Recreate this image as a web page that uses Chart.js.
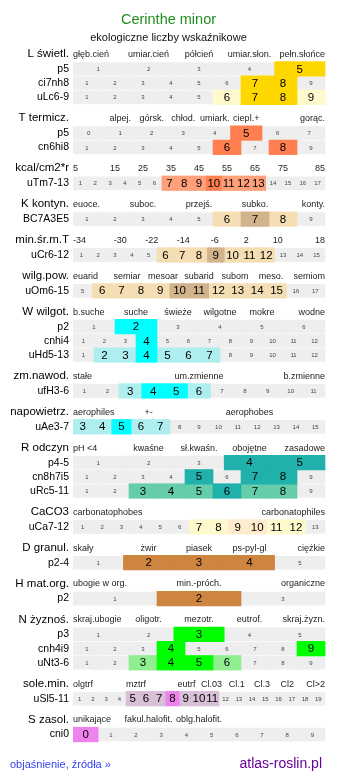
<!DOCTYPE html>
<html>
<head>
<meta charset="utf-8">
<script src="https://cdn.jsdelivr.net/npm/chart.js@4.4.0/dist/chart.umd.min.js"></script>
<style>
  html, body { margin: 0; padding: 0; background: #fff; }
  #wrap { position: relative; width: 337px; height: 781px; }
  #myChart { display: block; }
  .foot { position: absolute; text-decoration: none; font-family: 'Liberation Sans', Arial, sans-serif; white-space: nowrap; }
  #help { left: 10px; top: 758px; font-size: 11px; color: #3344ee; }
  #site { right: 15px; top: 755px; font-size: 14px; color: #660099; }
</style>
</head>
<body>
<div id="wrap">
  <canvas id="myChart" width="337" height="781"></canvas>
  <a class="foot" id="help" href="#">objaśnienie, źródła »</a>
  <a class="foot" id="site" href="#">atlas-roslin.pl</a>
</div>
<script>
/* globals Chart:false */

// Indicator names (left column)
var groupLabels = ['L świetl.', 'T termicz.', 'kcal/cm2*r', 'K kontyn.', 'min.śr.m.T', 'wilg.pow.',
  'W wilgot.', 'zm.nawod.', 'napowietrz.', 'R odczyn', 'CaCO3', 'D granul.', 'H mat.org.',
  'N żyznoś.', 'sole.min.', 'S zasol.'];

// Scale descriptions above each block ('' = empty slot)
var headerLabels = [
  ['głęb.cień', 'umiar.cień', 'półcień', 'umiar.słon.', 'pełn.słońce'],
  ['', 'alpej.', 'górsk.', 'chłod.', 'umiark.', 'ciepl.+', '', 'gorąc.'],
  ['5', '15', '25', '35', '45', '55', '65', '75', '85'],
  ['euoce.', '', 'suboc.', '', 'przejś.', '', 'subko.', '', 'konty.'],
  ['-34', '-30', '-22', '-14', '-6', '2', '10', '18'],
  ['euarid', 'semiar', 'mesoar', 'subarid', 'subom', 'meso.', 'semiom'],
  ['b.suche', 'suche', 'świeże', 'wilgotne', 'mokre', 'wodne'],
  ['stałe', 'um.zmienne', 'b.zmienne'],
  ['aerophiles', '+-', '', 'aerophobes', ''],
  ['pH <4', 'kwaśne', 'sł.kwaśn.', 'obojętne', 'zasadowe'],
  ['carbonatophobes', 'carbonatophiles'],
  ['skały', 'żwir', 'piasek', 'ps-pyl-gl', 'ciężkie'],
  ['ubogie w org.', 'min.-próch.', 'organiczne'],
  ['skraj.ubogie', 'oligotr.', 'mezotr.', 'eutrof.', 'skraj.żyzn.'],
  ['olgtrf', '', 'mztrf', '', 'eutrf', 'Cl.03', 'Cl.1', 'Cl.3', 'Cl2', 'Cl>2'],
  ['unikające', 'fakul.halofit.', 'oblg.halofit.', '', '']
];

// Source rows of every block
var rowLabels = [
  ['p5', 'ci7nh8', 'uLc6-9'],
  ['p5', 'cn6hi8'],
  ['uTm7-13'],
  ['BC7A3E5'],
  ['uCr6-12'],
  ['uOm6-15'],
  ['p2', 'cnhi4', 'uHd5-13'],
  ['ufH3-6'],
  ['uAe3-7'],
  ['p4-5', 'cn8h7i5', 'uRc5-11'],
  ['uCa7-12'],
  ['p2-4'],
  ['p2'],
  ['p3', 'cnh4i9', 'uNt3-6'],
  ['uSl5-11'],
  ['cni0']
];

// First and last value of each row
var rowRanges = [
  [[1, 5], [1, 9], [1, 9]],
  [[0, 7], [1, 9]],
  [[1, 17]],
  [[1, 9]],
  [[1, 15]],
  [[5, 17]],
  [[1, 6], [1, 12], [1, 12]],
  [[1, 11]],
  [[3, 15]],
  [[1, 5], [1, 9], [1, 9]],
  [[1, 13]],
  [[1, 5]],
  [[1, 3]],
  [[1, 5], [1, 9], [1, 9]],
  [[1, 19]],
  [[0, 9]]
];

// Main values (strong colour)
var strongValues = [
  [[5], [7, 8], [7, 8]],
  [[5], [6, 8]],
  [[10]],
  [[7]],
  [[9]],
  [[10, 11]],
  [[2], [4], [4]],
  [[4, 5]],
  [[5]],
  [[4, 5], [5, 7, 8], [6]],
  [[9, 10]],
  [[2, 3, 4]],
  [[2]],
  [[3], [4, 9], [4, 5]],
  [[8]],
  [[0]]
];

// Range values (light colour)
var lightValues = [
  [[], [], [6, 9]],
  [[], []],
  [[7, 8, 9, 11, 12, 13]],
  [[6, 8]],
  [[6, 7, 8, 10, 11, 12]],
  [[6, 7, 8, 9, 12, 13, 14, 15]],
  [[], [], [2, 3, 5, 6, 7]],
  [[3, 6]],
  [[3, 4, 6, 7]],
  [[], [], [3, 4, 5, 7, 8]],
  [[7, 8, 11, 12]],
  [[]],
  [[]],
  [[], [], [3, 6]],
  [[5, 6, 7, 9, 10, 11]],
  [[]]
];

var strongColors = ['#ffd700', '#ff7f50', '#ff7f50', '#d2b48c', '#d2b48c', '#d2b48c', '#00ffff', '#00ffff',
  '#00ffff', '#20b2aa', '#ffebcd', '#cd853f', '#cd853f', '#00ff00', '#ee82ee', '#ee82ee'];
var lightColors = ['#fffacd', '#ffa07a', '#ffa07a', '#f5deb3', '#f5deb3', '#f5deb3', '#afeeee', '#afeeee',
  '#afeeee', '#66cdaa', '#fffacd', '#cd853f', '#cd853f', '#90ee90', '#d8bfd8', '#d8bfd8'];

// Vertical layout (page pixels)
var HEAD_Y0 = 54, HEAD_TO_ROW = 15.3, ROW_STEP = 14.4, GROUP_STEP = 36.4;
var TOP = 14.5 * 1.2 + 11 + 11 * 1.2 + 5.4; // title + subtitle boxes
var FONT = "'Liberation Sans', Arial, sans-serif";

var headY = [], rowY = [], yTicks = [];
var y = HEAD_Y0;
for (var g = 0; g < groupLabels.length; g++) {
  headY.push(y);
  yTicks.push({value: y, label: groupLabels[g], group: true});
  rowY.push([]);
  for (var r = 0; r < rowLabels[g].length; r++) {
    var ry = y + HEAD_TO_ROW + r * ROW_STEP;
    rowY[g].push(ry);
    yTicks.push({value: ry, label: rowLabels[g][r], group: false});
  }
  y += GROUP_STEP + (rowLabels[g].length - 1) * ROW_STEP;
}

// One floating bar per cell
var baseData = [], lightData = [], lightBg = [], strongData = [], strongBg = [];
for (g = 0; g < rowLabels.length; g++) {
  for (r = 0; r < rowLabels[g].length; r++) {
    var from = rowRanges[g][r][0], to = rowRanges[g][r][1], n = to - from + 1;
    for (var v = from; v <= to; v++) {
      var k = v - from;
      var isStrong = strongValues[g][r].indexOf(v) != -1;
      var isLight = lightValues[g][r].indexOf(v) != -1;
      baseData.push({x: [k / n, (k + 1) / n], y: rowY[g][r], v: v, big: isStrong || isLight});
      if (isStrong) {
        strongData.push({x: [k / n, (k + 1) / n], y: rowY[g][r], v: v, big: true});
        strongBg.push(strongColors[g]);
      } else if (isLight) {
        lightData.push({x: [k / n, (k + 1) / n], y: rowY[g][r], v: v, big: true});
        lightBg.push(lightColors[g]);
      }
    }
  }
}

// Numbers inside the cells
var cellText = {
  id: 'cellText',
  afterDatasetsDraw: function(chart) {
    var ctx = chart.ctx;
    ctx.save();
    ctx.textAlign = 'center';
    ctx.textBaseline = 'middle';
    chart.data.datasets.forEach(function(ds, di) {
      var meta = chart.getDatasetMeta(di);
      meta.data.forEach(function(bar, i) {
        var cell = ds.data[i];
        if (ds.label === 'base' && cell.big) return;
        var p = bar.getProps(['x', 'y', 'base'], true);
        if (cell.big) {
          ctx.font = '11.5px ' + FONT;
          ctx.fillStyle = '#000';
        } else {
          ctx.font = '6px ' + FONT;
          ctx.fillStyle = '#444';
        }
        ctx.fillText(String(cell.v), (p.x + p.base) / 2, p.y + 0.5);
      });
    });
    ctx.restore();
  }
};

// Scale descriptions above the rows
var headerText = {
  id: 'headerText',
  afterDatasetsDraw: function(chart) {
    var ctx = chart.ctx, xs = chart.scales.x, ys = chart.scales.y;
    var left = xs.getPixelForValue(0), right = xs.getPixelForValue(1);
    ctx.save();
    ctx.font = '9px ' + FONT;
    ctx.fillStyle = '#222';
    ctx.textBaseline = 'middle';
    headerLabels.forEach(function(list, gi) {
      var py = ys.getPixelForValue(headY[gi]) + 0.5;
      var seg = (right - left) / list.length;
      list.forEach(function(txt, j) {
        if (!txt) return;
        if (j === 0) {
          ctx.textAlign = 'left';
          ctx.fillText(txt, left, py);
        } else if (j === list.length - 1) {
          ctx.textAlign = 'right';
          ctx.fillText(txt, right, py);
        } else {
          ctx.textAlign = 'center';
          ctx.fillText(txt, left + (j + 0.5) * seg, py);
        }
      });
    });
    ctx.restore();
  }
};

Chart.defaults.font.family = FONT;
Chart.defaults.color = '#000';

var ctx = document.getElementById('myChart').getContext('2d');
var myChart = new Chart(ctx, {
  type: 'bar',
  data: {
    datasets: [
      {label: 'base', data: baseData, backgroundColor: '#eeeeee', barThickness: 13, order: 3},
      {label: 'light', data: lightData, backgroundColor: lightBg, barThickness: 14.6, order: 2},
      {label: 'strong', data: strongData, backgroundColor: strongBg, barThickness: 14.6, order: 1}
    ]
  },
  options: {
    indexAxis: 'y',
    responsive: false,
    animation: false,
    devicePixelRatio: 1,
    events: [],
    layout: {padding: 0},
    datasets: {bar: {grouped: false, borderWidth: 0}},
    scales: {
      x: {
        type: 'linear',
        display: false,
        min: 0,
        max: 264 / 252 // cells end at x = 325
      },
      y: {
        type: 'linear',
        reverse: true,
        offset: false,
        min: TOP,
        max: 781,
        grid: {display: false, drawTicks: false},
        border: {display: false},
        afterFit: function(scale) { scale.width = 73; },
        afterBuildTicks: function(scale) {
          scale.ticks = yTicks.map(function(t) { return {value: t.value}; });
        },
        ticks: {
          autoSkip: false,
          padding: 4,
          color: '#000',
          callback: function(value, index) { return yTicks[index] ? yTicks[index].label : ''; },
          font: function(c) {
            return (yTicks[c.index] && yTicks[c.index].group) ? {size: 11.5} : {size: 10.5};
          }
        }
      }
    },
    plugins: {
      legend: {display: false},
      tooltip: {enabled: false},
      title: {
        display: true,
        text: 'Cerinthe minor',
        color: '#1f8f1f',
        font: {size: 14.5, weight: 'normal'},
        padding: {top: 11, bottom: 0}
      },
      subtitle: {
        display: true,
        text: 'ekologiczne liczby wskaźnikowe',
        color: '#111',
        font: {size: 11},
        padding: {top: 3.4, bottom: 2}
      }
    }
  },
  plugins: [cellText, headerText]
});
</script>
</body>
</html>
